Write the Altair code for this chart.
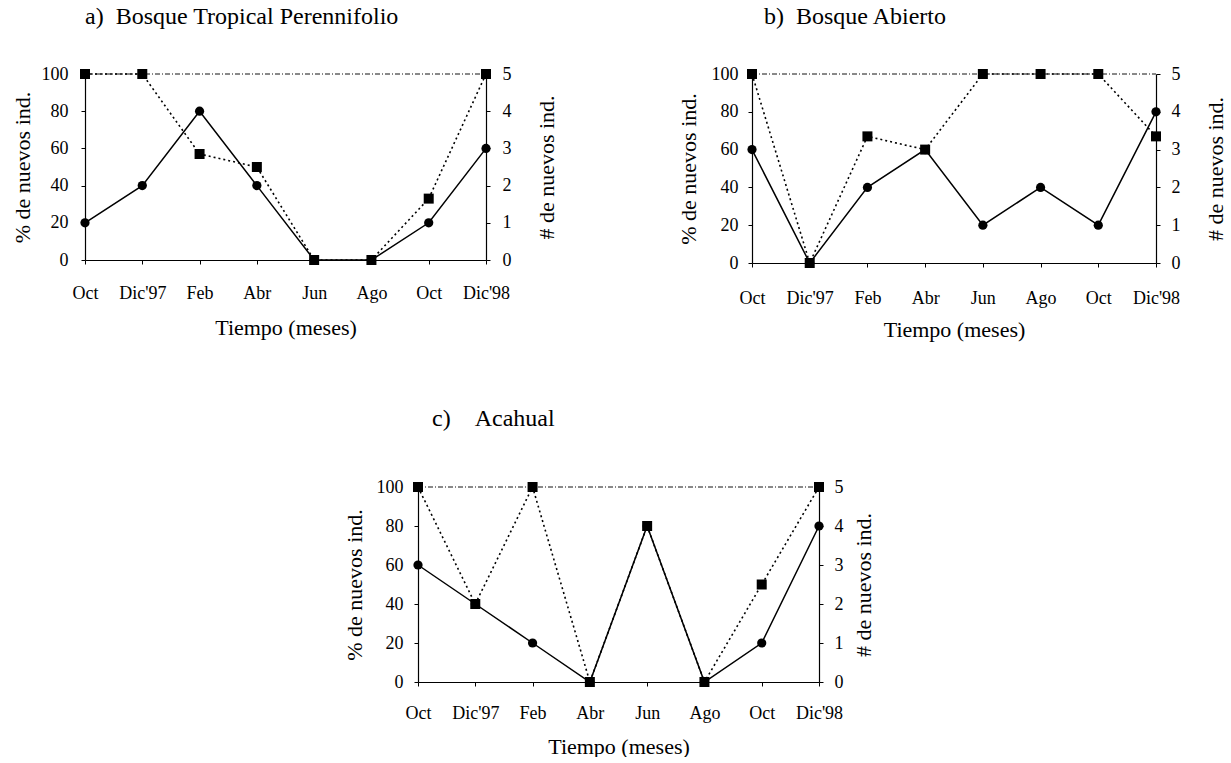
import json
import altair as alt
import pandas as pd

months = ["Oct", "Dic'97", "Feb", "Abr", "Jun", "Ago", "Oct", "Dic'98"]

# % de nuevos individuos (squares, dotted, left axis)
pct_a = [100, 100, 57, 50, 0, 0, 33, 100]
pct_b = [100, 0, 67, 60, 100, 100, 100, 67]
pct_c = [100, 40, 100, 0, 80, 0, 50, 100]

# # de nuevos individuos (circles, solid, right axis)
n_a = [1, 2, 4, 2, 0, 0, 1, 3]
n_b = [3, 0, 2, 3, 1, 2, 1, 4]
n_c = [3, 2, 1, 0, 4, 0, 1, 4]

titles = ["a)\u2002Bosque Tropical Perennifolio", "b)\u2002Bosque Abierto", "c)\u2002\u2002Acahual"]

FONT = "Liberation Serif"
label_expr = json.dumps(months) + "[datum.value]"


def panel(title, pct, n, w, h, dx, toff, lpad_l, tpad_l, lpad_r, tpad_r, lpad_x, tpad_x):
    df = pd.DataFrame({"i": list(range(len(months))), "pct": pct, "n": n})
    base = alt.Chart(df)
    x = alt.X("i:Q", scale=alt.Scale(domain=[0, len(months) - 1], nice=False, zero=False),
              axis=alt.Axis(values=list(range(len(months))), labelExpr=label_expr,
                            title="Tiempo (meses)", grid=False, tickSize=4, labelFlush=False,
                            labelOverlap=False, labelPadding=lpad_x, titlePadding=tpad_x))
    y_pct = alt.Y("pct:Q", scale=alt.Scale(domain=[0, 100], nice=False),
                  axis=alt.Axis(orient="left", values=[0, 20, 40, 60, 80, 100],
                                title="% de nuevos ind.", grid=False, tickSize=4,
                                labelFlush=False, labelOverlap=False,
                                labelPadding=lpad_l, titlePadding=tpad_l))
    y_n = alt.Y("n:Q", scale=alt.Scale(domain=[0, 5], nice=False),
                axis=alt.Axis(orient="right", values=[0, 1, 2, 3, 4, 5],
                              title="# de nuevos ind.", grid=False, tickSize=4,
                              labelFlush=False, labelOverlap=False,
                              labelPadding=lpad_r, titlePadding=tpad_r,
                              titleAngle=270, titleBaseline="top"))
    n_line = base.mark_line(color="black", strokeWidth=1.5).encode(x=x, y=y_n)
    n_pts = base.mark_circle(size=85, color="black", opacity=1).encode(x=x, y=y_n)
    # top frame line of the plot area (decorative, dash-dot grey)
    top = base.mark_rule(color="#888888", strokeDash=[5, 2, 1, 2], strokeWidth=1).encode(
        y=alt.value(0), x=alt.value(0), x2=alt.value(w))
    p_line = base.mark_line(color="black", strokeWidth=1.6, strokeDash=[2, 3]).encode(x=x, y=y_pct)
    p_pts = base.mark_square(size=100, color="black", opacity=1).encode(x=x, y=y_pct)
    ch = alt.layer(
        alt.layer(top, n_line, n_pts),
        alt.layer(p_line, p_pts),
    ).resolve_scale(y="independent").properties(
        width=w, height=h,
        title=alt.TitleParams(title, anchor="start", frame="group", dx=dx, offset=toff,
                              font=FONT, fontSize=24, fontWeight="normal", color="black"),
    )
    return ch


a = panel(titles[0], pct_a, n_a, 401, 186, 0, 36, 13, 7, 12, 25, 20, 15)
b = panel(titles[1], pct_b, n_b, 404, 189, 12, 36, 10, 11, 11, 25, 22, 12)
c = panel(titles[2], pct_c, n_c, 401, 195, 14, 47, 11, 10, 11, 10, 18, 14)

# invisible spacer so the bottom panel sits where it does in the original
spacer = alt.Chart(pd.DataFrame({"v": [0]})).mark_point(opacity=0).encode(
    x=alt.value(0), y=alt.value(0)).properties(width=16, height=10)

top_row = alt.hconcat(a, b, spacing=120)
bottom_row = alt.hconcat(c, spacer, spacing=0)
chart = alt.vconcat(top_row, bottom_row, spacing=67, center=True).properties(
    padding={"left": 11, "top": 5, "right": 0, "bottom": 0},
    background="white",
).configure_view(stroke=None).configure_axis(
    labelFont=FONT, titleFont=FONT, labelFontSize=18, titleFontSize=22, titleFontWeight="normal",
    labelColor="black", titleColor="black", domainColor="black", tickColor="black", domainWidth=1.2,
)

chart.save("out.html", embed_options={"renderer": "svg", "actions": False})
